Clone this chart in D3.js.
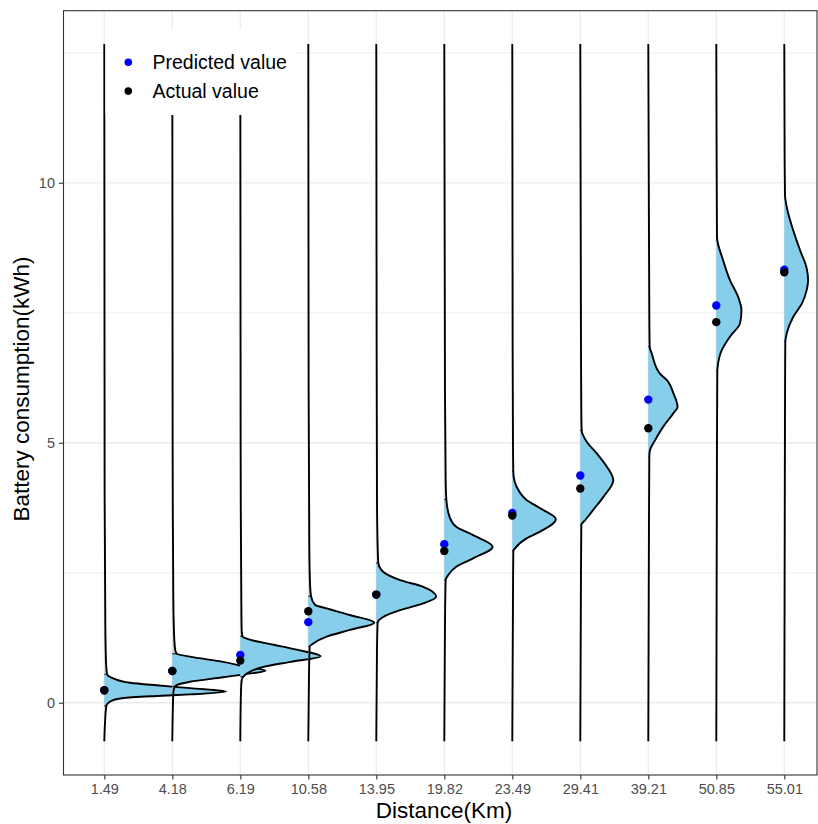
<!DOCTYPE html>
<html>
<head>
<meta charset="utf-8">
<script src="https://cdn.jsdelivr.net/npm/d3@7"></script>
<style>
  html, body { margin: 0; padding: 0; background: #fff; }
  svg { display: block; font-family: "Liberation Sans", Arial, Helvetica, sans-serif; }
</style>
</head>
<body>
<svg id="chart" width="818" height="824"></svg>
<script>
// ---------------- DATA ----------------
const categories = ["1.49","4.18","6.19","10.58","13.95","19.82","23.49","29.41","39.21","50.85","55.01"];
const predicted = [0.24, 0.61, 0.92, 1.55, 2.08, 3.05, 3.65, 4.37, 5.83, 7.64, 8.33];
const actual    = [0.24, 0.61, 0.81, 1.76, 2.08, 2.92, 3.60, 4.12, 5.28, 7.32, 8.28];
const yTicks = [0, 5, 10];
const yMinorTicks = [2.5, 7.5, 12.5];
// central (filled) interval of each density: [low, high]
const intervals = [
  [-0.06, 0.55], [0.31, 0.94], [0.50, 1.28], [1.08, 2.05], [1.54, 2.69], [2.36, 3.91],
  [2.92, 4.45], [3.42, 5.24], [4.74, 6.85], [6.38, 8.96], [6.94, 9.76]
];
// density profiles: [battery value, scaled density height]
const densities = [
  [[-0.74,0],[-0.4,0.01],[-0.06,0.03],[0.02,0.08],[0.09,0.28],[0.13,0.77],[0.16,1.26],[0.215,1.79],[0.28,1.26],[0.335,0.77],[0.385,0.38],[0.47,0.13],[0.55,0.04],[0.8,0.025],[1.5,0.015],[4,0.005],[12.67,0]],
  [[-0.74,0],[0,0.01],[0.2,0.015],[0.31,0.035],[0.34,0.065],[0.404,0.26],[0.49,0.75],[0.55,1.08],[0.615,1.37],[0.70,1.05],[0.785,0.75],[0.887,0.26],[0.94,0.07],[1.0,0.045],[1.2,0.03],[2,0.015],[5,0.005],[12.67,0]],
  [[-0.74,0],[0.2,0.01],[0.43,0.02],[0.5,0.045],[0.56,0.095],[0.69,0.34],[0.787,0.74],[0.895,1.18],[1.02,0.83],[1.115,0.49],[1.21,0.15],[1.28,0.03],[1.4,0.02],[2,0.015],[5,0.005],[12.67,0]],
  [[-0.74,0],[0.5,0.01],[1.08,0.02],[1.14,0.074],[1.27,0.27],[1.40,0.61],[1.54,0.97],[1.687,0.61],[1.815,0.27],[1.88,0.10],[2.05,0.04],[2.3,0.025],[3,0.015],[6,0.005],[12.67,0]],
  [[-0.74,0],[1.0,0.01],[1.54,0.02],[1.65,0.10],[1.78,0.35],[1.91,0.69],[2.04,0.88],[2.23,0.69],[2.36,0.35],[2.52,0.10],[2.69,0.03],[3,0.02],[4,0.01],[7,0.005],[12.67,0]],
  [[-0.74,0],[1.5,0.01],[2.36,0.02],[2.46,0.06],[2.62,0.18],[2.78,0.43],[3.0,0.71],[3.22,0.43],[3.38,0.18],[3.55,0.084],[3.91,0.03],[4.3,0.02],[6,0.01],[12.67,0]],
  [[-0.74,0],[2,0.01],[2.92,0.015],[2.97,0.04],[3.16,0.21],[3.29,0.41],[3.53,0.64],[3.74,0.41],[3.9,0.21],[4.15,0.065],[4.35,0.02],[4.45,0.015],[5,0.01],[7,0.005],[12.67,0]],
  [[-0.74,0],[2.5,0.01],[3.42,0.015],[3.51,0.07],[3.71,0.19],[3.96,0.34],[4.28,0.485],[4.54,0.39],[4.80,0.24],[5.02,0.094],[5.24,0.02],[5.6,0.015],[7,0.01],[12.67,0]],
  [[-0.74,0],[3.5,0.01],[4.74,0.015],[4.86,0.025],[5.05,0.10],[5.31,0.22],[5.57,0.37],[5.69,0.43],[5.95,0.37],[6.21,0.27],[6.33,0.17],[6.72,0.05],[6.85,0.02],[7.5,0.015],[9,0.01],[12.67,0]],
  [[-0.74,0],[5,0.01],[6.38,0.015],[6.46,0.02],[6.78,0.08],[7.04,0.20],[7.30,0.35],[7.55,0.37],[7.81,0.32],[8.13,0.20],[8.51,0.10],[8.96,0.01],[9.5,0.008],[12.67,0]],
  [[-0.74,0],[5.5,0.01],[6.94,0.015],[7.10,0.035],[7.42,0.13],[7.68,0.26],[7.94,0.33],[8.13,0.35],[8.35,0.33],[8.71,0.23],[9.09,0.13],[9.54,0.035],[9.76,0.01],[10.5,0.005],[12.67,0]]
];
const legendLabels = ["Predicted value", "Actual value"];
const legendColors = ["#0000ff", "#000000"];

// ---------------- LAYOUT ----------------
const panel = { left: 63.5, right: 817, top: 10.7, bottom: 775 };
const svg = d3.select("#chart");

const x = d3.scalePoint().domain(categories).range([104.3, 784.3]);
const y = d3.scaleLinear().domain([-1.39, 13.31]).range([panel.bottom, panel.top]);
const dens = d3.scaleLinear().domain([0, 1]).range([0, 68]);

// grid
const grid = svg.append("g");
grid.selectAll(".minor").data(yMinorTicks).join("line")
  .attr("x1", panel.left).attr("x2", panel.right)
  .attr("y1", d => y(d)).attr("y2", d => y(d))
  .attr("stroke", "#ebebeb").attr("stroke-width", 0.8);
grid.selectAll(".majorY").data(yTicks).join("line")
  .attr("x1", panel.left).attr("x2", panel.right)
  .attr("y1", d => y(d)).attr("y2", d => y(d))
  .attr("stroke", "#ebebeb").attr("stroke-width", 1.3);
grid.selectAll(".majorX").data(categories).join("line")
  .attr("x1", d => x(d)).attr("x2", d => x(d))
  .attr("y1", panel.top).attr("y2", panel.bottom)
  .attr("stroke", "#ebebeb").attr("stroke-width", 1.3);

// ridges
const defs = svg.append("defs");
const ridges = svg.append("g");
function interpAt(pts, v) {
  for (let i = 1; i < pts.length; i++) {
    if (pts[i][0] >= v) {
      const a = pts[i-1], b = pts[i];
      const t = (v - a[0]) / (b[0] - a[0]);
      return a[1] + t * (b[1] - a[1]);
    }
  }
  return 0;
}
categories.forEach((c, i) => {
  const base = x(c);
  const pts = densities[i];
  const area = d3.area()
    .y(d => y(d[0]))
    .x0(base)
    .x1(d => base + dens(d[1]))
    .curve(d3.curveMonotoneY);
  const line = d3.line()
    .y(d => y(d[0]))
    .x(d => base + dens(d[1]))
    .curve(d3.curveMonotoneY);
  const [lo, hi] = intervals[i];
  const clipId = "clip" + i;
  defs.append("clipPath").attr("id", clipId)
    .append("rect")
    .attr("x", base - 1).attr("width", 200)
    .attr("y", y(hi)).attr("height", y(lo) - y(hi));
  const g = ridges.append("g");
  g.append("path").attr("d", area(pts)).attr("fill", "#d6d6d6");
  g.append("path").attr("d", area(pts)).attr("fill", "#87ceeb").attr("clip-path", `url(#${clipId})`);
  [lo, hi].forEach(v => {
    g.append("line")
      .attr("x1", base).attr("x2", base + dens(interpAt(pts, v)))
      .attr("y1", y(v)).attr("y2", y(v))
      .attr("stroke", "#000").attr("stroke-width", 1);
  });
  g.append("path").attr("d", line(pts)).attr("fill", "none")
    .attr("stroke", "#000").attr("stroke-width", 1.9);
});

// points
const pts = svg.append("g");
pts.selectAll(".pred").data(predicted).join("circle")
  .attr("cx", (d, i) => x(categories[i])).attr("cy", d => y(d)).attr("r", 4.2)
  .attr("fill", "#0000ff");
pts.selectAll(".act").data(actual).join("circle")
  .attr("cx", (d, i) => x(categories[i])).attr("cy", d => y(d)).attr("r", 4.2)
  .attr("fill", "#000000");

// legend
const lg = svg.append("g");
lg.append("rect").attr("x", 105.5).attr("y", 29).attr("width", 191.5).attr("height", 86).attr("fill", "#fff");
legendLabels.forEach((t, i) => {
  lg.append("circle").attr("cx", 128.3).attr("cy", 62.3 + i * 28.8).attr("r", 3.8).attr("fill", legendColors[i]);
  lg.append("text").attr("x", 152.5).attr("y", 69.3 + i * 28.8)
    .attr("font-size", 19.5).attr("fill", "#000").text(t);
});

// panel border
svg.append("rect")
  .attr("x", panel.left).attr("y", panel.top)
  .attr("width", panel.right - panel.left).attr("height", panel.bottom - panel.top)
  .attr("fill", "none").attr("stroke", "#333333").attr("stroke-width", 1.1);

// axes
const yAxis = svg.append("g").attr("transform", `translate(${panel.left},0)`)
  .call(d3.axisLeft(y).tickValues(yTicks).tickSize(4.5).tickPadding(4).tickFormat(d3.format("d")));
const xAxis = svg.append("g").attr("transform", `translate(0,${panel.bottom})`)
  .call(d3.axisBottom(x).tickSize(4.5).tickPadding(4));
[yAxis, xAxis].forEach(a => {
  a.select(".domain").remove();
  a.selectAll(".tick line").attr("stroke", "#333333").attr("stroke-width", 1.1);
  a.selectAll(".tick text").attr("fill", "#4d4d4d").attr("font-size", 14.5)
    .attr("font-family", '"Liberation Sans", Arial, Helvetica, sans-serif');
});

// axis titles
svg.append("text").attr("x", 444).attr("y", 818).attr("text-anchor", "middle")
  .attr("font-size", 22.5).attr("fill", "#000").text("Distance(Km)");
svg.append("text").attr("transform", `translate(29,389) rotate(-90)`).attr("text-anchor", "middle")
  .attr("font-size", 22.5).attr("fill", "#000").text("Battery consumption(kWh)");
</script>
</body>
</html>
